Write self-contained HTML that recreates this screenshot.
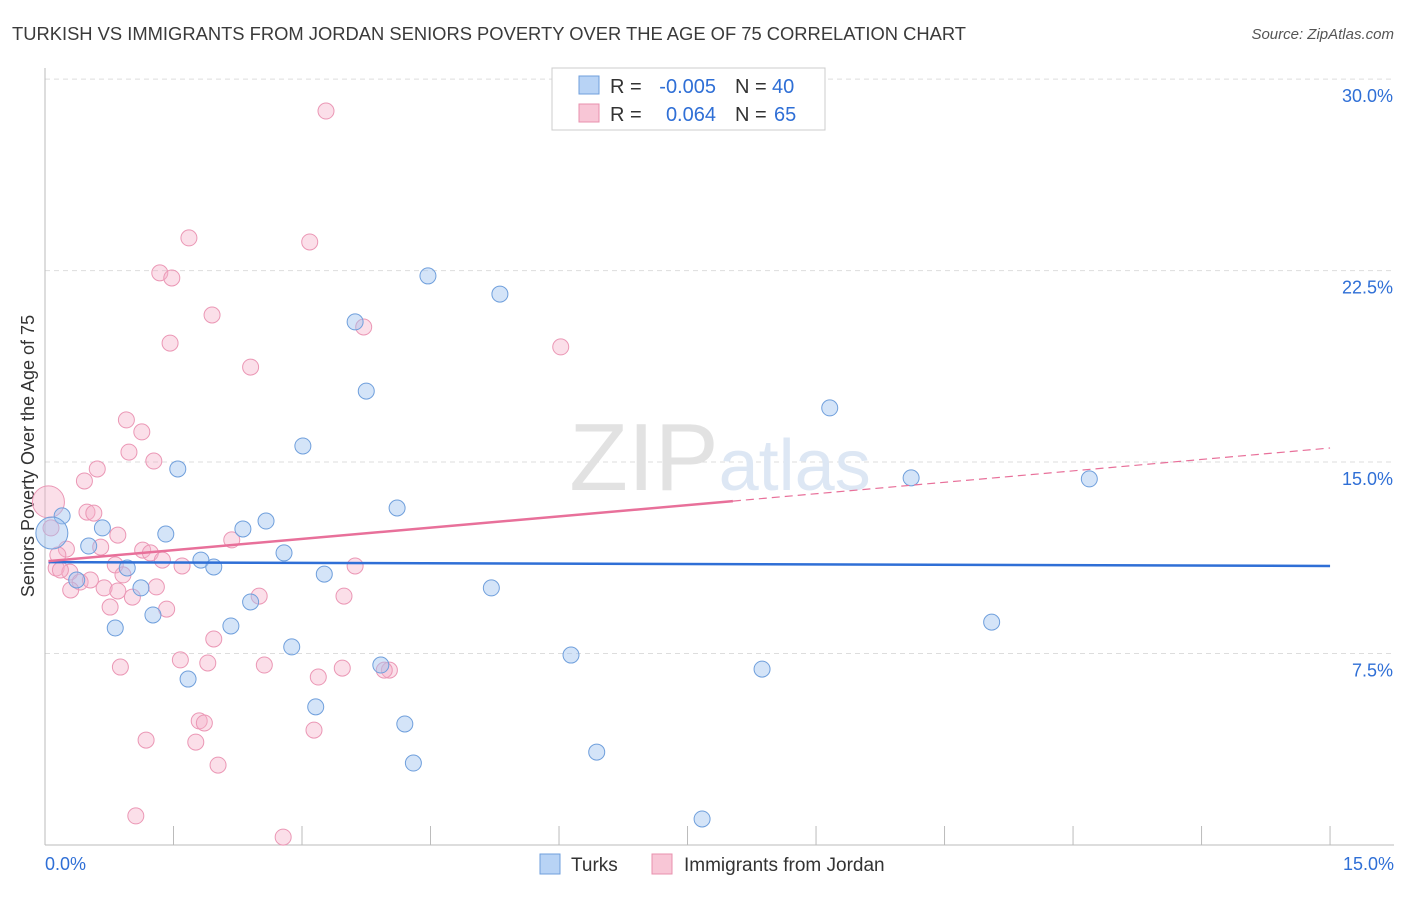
<!DOCTYPE html>
<html><head><meta charset="utf-8"><style>
body{margin:0;background:#fff;font-family:"Liberation Sans",sans-serif;}
svg text{font-family:"Liberation Sans",sans-serif;}
</style></head><body>
<svg width="1406" height="892">
<text x="12" y="40" font-size="18.2" fill="#3a3a3a" textLength="954" lengthAdjust="spacingAndGlyphs">TURKISH VS IMMIGRANTS FROM JORDAN SENIORS POVERTY OVER THE AGE OF 75 CORRELATION CHART</text>
<text x="1394" y="39" font-size="15" fill="#555" font-style="italic" text-anchor="end">Source: ZipAtlas.com</text>
<g id="grid"></g>
<text x="720" y="490" font-size="96" fill="#e8e8e8" text-anchor="middle" font-family="Liberation Serif"><tspan fill="#e2e2e2">ZIP</tspan><tspan fill="#dde7f4" font-family="Liberation Sans" font-size="72">atlas</tspan></text>
<text transform="translate(34,456) rotate(-90)" font-size="18" fill="#333" text-anchor="middle">Seniors Poverty Over the Age of 75</text>
<g id="pts"></g>
<g id="trend"></g>
<g>
<rect x="552" y="68" width="273" height="62" fill="#fff" stroke="#ccc"/>
<rect x="579" y="76" width="20" height="18" fill="#b8d3f5" stroke="#6f9fdc"/>
<rect x="579" y="104" width="20" height="18" fill="#f8c6d6" stroke="#e890ae"/>
<text x="610" y="93" font-size="20" fill="#333">R =</text>
<text x="716" y="93" font-size="20" fill="#2f6fd6" text-anchor="end">-0.005</text>
<text x="735" y="93" font-size="20" fill="#333">N =</text>
<text x="772" y="93" font-size="20" fill="#2f6fd6">40</text>
<text x="610" y="121" font-size="20" fill="#333">R =</text>
<text x="716" y="121" font-size="20" fill="#2f6fd6" text-anchor="end">0.064</text>
<text x="735" y="121" font-size="20" fill="#333">N =</text>
<text x="774" y="121" font-size="20" fill="#2f6fd6">65</text>
</g>
<g>
<rect x="540" y="854" width="20" height="20" fill="#b8d3f5" stroke="#6f9fdc"/>
<text x="571" y="871" font-size="19" fill="#333">Turks</text>
<rect x="652" y="854" width="20" height="20" fill="#f8c6d6" stroke="#e890ae"/>
<text x="684" y="871" font-size="19" fill="#333">Immigrants from Jordan</text>
</g>
</svg>
<script>
const xTicks=[0,1.5,3,4.5,6,7.5,9,10.5,12,13.5,15];
const yTicks=[7.5,15,22.5,30];
const yTickLabels=["7.5%","15.0%","22.5%","30.0%"];
const turksX=[0.20,0.51,0.67,0.96,0.82,1.12,1.26,1.41,1.55,1.67,1.82,1.97,2.17,2.31,2.40,2.58,2.79,2.88,3.01,3.16,3.26,3.62,3.75,3.92,4.11,4.20,4.30,4.47,5.21,5.31,6.14,6.44,7.67,8.37,9.16,10.11,11.05,12.19,0.08,0.37];
const turksY=[12.89,11.71,12.42,10.85,8.50,10.07,9.01,12.18,14.73,6.50,11.16,10.89,8.58,12.38,9.52,12.69,11.44,7.76,15.63,5.41,10.61,20.49,17.78,7.05,13.20,4.74,3.21,22.29,10.07,21.58,7.44,3.64,1.02,6.89,17.12,14.38,8.73,14.34,12.22,10.38];
const turksR=[8,8,8,8,8,8,8,8,8,8,8,8,8,8,8,8,8,8,8,8,8,8,8,8,8,8,8,8,8,8,8,8,8,8,8,8,8,8,16,8];
const jordanX=[3.28,1.68,3.09,1.34,1.48,1.95,3.72,1.46,6.02,2.40,0.95,1.13,0.98,1.27,0.61,0.46,0.49,0.57,0.04,0.07,0.85,2.18,0.25,0.15,0.65,1.14,1.23,1.37,1.60,3.62,0.82,0.91,0.13,0.29,0.41,0.30,0.69,0.85,1.30,1.02,2.50,3.49,0.76,1.42,1.97,1.58,1.90,0.88,2.56,3.47,4.02,3.96,3.19,1.80,1.86,3.14,1.18,1.76,2.02,1.06,2.78,0.18,0.53];
const jordanY=[28.75,23.78,23.62,22.41,22.21,20.76,20.29,19.66,19.51,18.72,16.65,16.18,15.39,15.04,14.73,14.26,13.04,13.00,13.44,12.42,12.14,11.95,11.59,11.36,11.67,11.55,11.44,11.16,10.93,10.93,10.97,10.58,10.85,10.69,10.30,9.99,10.07,9.95,10.11,9.71,9.75,9.75,9.32,9.24,8.07,7.25,7.13,6.97,7.05,6.93,6.85,6.85,6.58,4.86,4.78,4.50,4.11,4.03,3.13,1.14,0.31,10.77,10.38];
const turksTrendX=[0.04,15];const turksTrendY=[11.08,10.93];
const jordanTrendX=[0.04,8.03,15];const jordanTrendY=[11.12,13.47,15.55];

const X=v=>45+v*85.67, Y=v=>845-v*25.53;
const NS="http://www.w3.org/2000/svg";
function mk(t,a,p){const e=document.createElementNS(NS,t);for(const k in a)e.setAttribute(k,a[k]);p.appendChild(e);return e;}
const grid=document.getElementById('grid');
yTicks.forEach((t,i)=>{
 const l=mk('line',{x1:45,x2:1394,y1:Y(t),y2:Y(t),stroke:'#ddd','stroke-dasharray':'5,4'},grid);
 
 
 const tx=mk('text',{x:1393,y:Y(t)+23,'font-size':18,fill:'#2f6fd6','text-anchor':'end'},grid);
 tx.textContent=yTickLabels[i];
 
 
});
const ax=mk('line',{x1:45,x2:45,y1:68,y2:845,stroke:'#bbb'},grid);


const bx=mk('line',{x1:45,x2:1394,y1:845,y2:845,stroke:'#bbb'},grid);


xTicks.forEach(t=>{const l=mk('line',{x1:X(t),x2:X(t),y1:826,y2:845,stroke:'#bbb'},grid);
 
 });
[[0,"0.0%","start",45],[15,"15.0%","end",1394]].forEach(d=>{const t=mk('text',{x:d[3],y:870,'font-size':18,fill:'#2f6fd6','text-anchor':d[2]},grid);t.textContent=d[1];
 
 });
const pts=document.getElementById('pts');
jordanX.forEach((x,i)=>{const c=mk('circle',{cx:X(x),cy:Y(jordanY[i]),r:i==18?16:8,fill:'rgba(245,175,200,0.4)',stroke:'#eb97b5','stroke-width':1},pts);
 
 });
turksX.forEach((x,i)=>{const c=mk('circle',{cx:X(x),cy:Y(turksY[i]),r:turksR[i],fill:'rgba(160,195,240,0.45)',stroke:'#6f9fdc','stroke-width':1},pts);
 
 });
const tr=document.getElementById('trend');
const bl=mk('line',{x1:X(turksTrendX[0]),y1:Y(turksTrendY[0]),x2:X(turksTrendX[1]),y2:Y(turksTrendY[1]),stroke:'#2f6fd6','stroke-width':2.5},tr);


const pl=mk('line',{x1:X(jordanTrendX[0]),y1:Y(jordanTrendY[0]),x2:X(jordanTrendX[1]),y2:Y(jordanTrendY[1]),stroke:'#e8709a','stroke-width':2.5},tr);


const pd=mk('line',{x1:X(jordanTrendX[1]),y1:Y(jordanTrendY[1]),x2:X(jordanTrendX[2]),y2:Y(jordanTrendY[2]),stroke:'#e8709a','stroke-width':1.2,'stroke-dasharray':'8,5'},tr);


</script>
</body></html>
